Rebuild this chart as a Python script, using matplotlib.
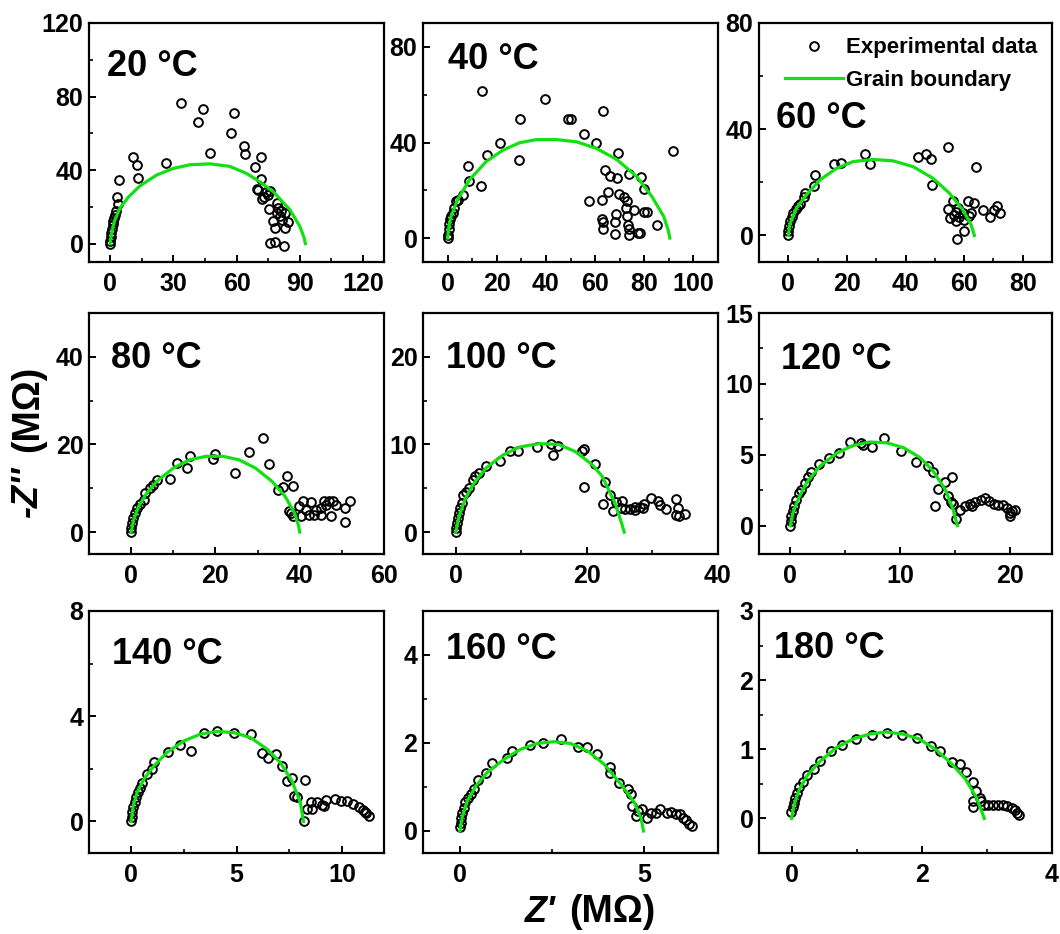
import numpy as np
import matplotlib
matplotlib.use("Agg")
import matplotlib.pyplot as plt
from matplotlib.ticker import MultipleLocator

plt.rcParams['font.family'] = ['Liberation Sans', 'DejaVu Sans']
plt.rcParams['font.weight'] = 'bold'

# ---------------- data ----------------
temps = ["20", "40", "60", "80", "100", "120", "140", "160", "180"]

e20 = [(0, 0), (0, 1.4), (0.3, 3.8), (0.5, 5.9), (0.8, 8.1), (1.3, 10.4), (1.6, 12.2), (2.1, 14.0),
       (2.4, 15.8), (2.8, 17.6), (3.6, 21.7), (3.2, 25.6), (4.1, 34.6), (11.1, 47.2), (12.6, 43.0),
       (13.1, 35.5), (26.5, 43.6), (33.6, 76.4), (41.5, 66.4), (44.2, 73.2), (47.4, 49.5), (57.6, 60.3),
       (58.9, 71.0), (63.6, 53.1), (64.0, 49.0), (71.5, 47.2), (68.7, 41.8), (71.8, 35.2), (69.5, 29.8),
       (70.3, 29.2), (74.2, 28.3), (75.8, 28.7), (73.0, 25.6), (75.0, 26.5), (72.3, 24.4), (75.5, 19.0),
       (79.0, 22.0), (79.7, 19.4), (81.3, 17.6), (82.9, 16.7), (77.4, 12.2), (78.2, 8.6), (82.9, 8.6),
       (84.5, 11.7), (80.5, 14.9), (75.8, 0.5), (78.2, 0.9), (82.4, -1.3), (81.8, 13.1), (79.3, 16.7)]
f20 = [(0, 0), (0.8, 6), (2, 12), (4.7, 19.4), (8.7, 25.3), (14.2, 31.4), (22.1, 37.3), (30, 40.9),
       (37.9, 42.9), (47.4, 43.4), (56.8, 42), (64.7, 38.2), (71, 33.7), (77.4, 28.3), (85.3, 18.5),
       (90, 9.5), (92, 3.5), (92.7, 0)]

e40 = [(0, 0), (0.3, 1.5), (0.4, 3.6), (0.7, 5.7), (1, 7.8), (1.4, 9.1), (2, 10.5), (2.7, 12.6),
       (3.4, 15.4), (4.1, 16.1), (6.1, 18.1), (8.4, 30.3), (8.6, 23.7), (13.4, 22.0), (14.2, 61.7),
       (16.1, 34.7), (21.5, 39.6), (29.0, 32.7), (29.6, 49.7), (39.8, 58.3), (48.8, 49.7), (50.2, 49.7),
       (55.6, 43.7), (60.2, 39.6), (63.1, 53.0), (69.2, 35.8), (64.1, 28.5), (66.1, 26.0), (68.8, 25.3),
       (73.9, 26.7), (78.8, 25.7), (79.7, 20.5), (65.1, 19.2), (69.6, 18.4), (71.8, 17.4), (72.9, 15.4),
       (72.6, 12.6), (76.0, 11.9), (80.0, 10.9), (81.1, 10.9), (57.5, 15.4), (62.7, 16.1), (68.5, 10.1),
       (62.9, 8.2), (63.1, 6.6), (63.4, 3.9), (68.3, 6.6), (67.9, 1.8), (72.9, 9.4), (73.2, 5.3),
       (73.7, 1.1), (77.4, 2.2), (78.1, 2.2), (85.2, 5.4), (91.6, 36.5), (73.9, 3.6)]
f40 = [(0, 0), (0.5, 4.5), (1.4, 9.1), (4.1, 16.1), (8.9, 24.4), (15.7, 32), (22.5, 36.8), (29.3, 39.9),
       (36.1, 41.2), (44.3, 41.2), (52.5, 40.3), (60.6, 37.5), (68.8, 32.9), (77, 25.7), (83.1, 17.4),
       (87.9, 9.1), (89.7, 3.5), (90.4, 0)]

e60 = [(0, 0), (0, 1.5), (0.2, 3.4), (0.6, 5.3), (1.1, 7.1), (1.7, 8.4), (2.5, 9.9), (3.4, 10.9),
       (4.0, 11.9), (5.3, 14.6), (5.7, 16.1), (8.9, 18.8), (9.1, 22.8), (15.7, 26.9), (17.9, 27.4),
       (26.3, 30.6), (28.0, 26.9), (44.3, 29.4), (46.9, 30.6), (48.8, 28.8), (54.6, 33.4), (49.0, 19.0),
       (63.9, 25.9), (54.5, 9.9), (56.2, 12.8), (55.1, 6.5), (56.5, 7.8), (57.3, 9.0), (57.9, 10.3),
       (58.4, 7.1), (59.6, 8.4), (60.1, 5.9), (57.3, 5.3), (61.3, 13.0), (63.5, 12.1), (62.4, 8.4),
       (66.4, 9.6), (68.7, 7.1), (71.3, 11.1), (72.4, 8.6), (70.3, 9.6), (59.9, 1.5), (57.6, -1.4),
       (61.6, 7.4)]
f60 = [(0, 0), (0.4, 3.5), (1.1, 5.9), (2.8, 10.3), (6.2, 15.3), (10.8, 20.9), (16.5, 25.3), (22.1, 27.8),
       (28.9, 28.6), (35.7, 28.1), (42.6, 25.9), (49.4, 21.5), (55.0, 15.9), (59.6, 9.6), (62.4, 4),
       (63.5, 0)]

e80 = [(0, 0), (0, 0.9), (0.2, 2.1), (0.5, 3.2), (0.9, 4.3), (1.4, 5.5), (2.0, 6.5), (3.0, 7.4),
       (3.4, 8.9), (4.5, 10.1), (5.3, 10.8), (6.1, 12.0), (9.2, 12.2), (10.9, 15.8), (13.3, 14.6),
       (13.9, 17.4), (19.5, 16.7), (20.0, 17.9), (24.6, 13.5), (27.9, 18.2), (31.3, 21.5), (32.6, 15.6),
       (34.8, 9.7), (36.1, 10.3), (36.9, 12.9), (38.4, 10.6), (37.4, 4.9), (37.9, 4.3), (38.4, 3.7),
       (39.8, 5.9), (40.8, 7.2), (41.6, 5.1), (42.6, 6.8), (40.4, 3.6), (42.2, 4.0), (43.9, 5.1),
       (45.1, 5.6), (45.8, 7.0), (46.2, 6.2), (45.1, 4.0), (47.4, 3.6), (47.8, 7.2), (48.6, 6.2),
       (46.9, 7.0), (50.8, 5.5), (51.9, 7.2), (50.7, 2.4), (43.5, 4.0)]
f80 = [(0, 0), (0.6, 2.8), (1.8, 5.9), (3.7, 8.9), (6.1, 11.6), (10.0, 14.6), (13.9, 16.5), (17.8, 17.3),
       (21.7, 17.3), (25.6, 16.5), (29.5, 14.6), (33.4, 11.6), (36.5, 8.2), (38.8, 4.3), (39.7, 1.5),
       (40, 0)]

e100 = [(0, 0), (0.1, 0.5), (0.25, 1.0), (0.35, 1.6), (0.5, 2.2), (0.7, 2.7), (1.0, 3.3), (1.1, 4.2),
        (1.6, 4.6), (2.0, 5.0), (2.6, 6.0), (3.0, 6.4), (3.6, 6.7), (4.6, 7.5), (6.8, 8.1), (8.2, 9.2),
        (9.5, 9.3), (12.4, 9.7), (14.5, 10.1), (14.9, 8.8), (15.6, 9.8), (19.2, 9.2), (19.5, 9.5),
        (19.6, 5.1), (21.3, 7.8), (22.8, 5.7), (22.5, 3.2), (23.5, 4.2), (24.0, 2.4), (24.4, 3.4),
        (25.2, 2.7), (25.8, 2.6), (26.5, 2.6), (27.3, 2.9), (28.1, 2.9), (28.7, 3.2), (28.6, 2.7),
        (29.8, 3.9), (30.8, 3.5), (31.2, 3.1), (32.0, 2.6), (33.6, 3.8), (33.9, 2.7), (33.6, 2.0),
        (34.1, 1.8), (34.9, 2.1), (25.3, 3.5), (27.3, 2.5)]
f100 = [(0, 0), (0.5, 1.8), (1.4, 3.7), (2.6, 5.4), (4.6, 7.3), (7.2, 8.8), (9.7, 9.7), (12.7, 10.1),
        (15.7, 10.0), (18.2, 9.2), (20.8, 7.7), (22.3, 6.4), (24.3, 3.3), (25.3, 1.0), (25.7, 0)]

e120 = [(0, 0), (0.03, 0.3), (0.1, 0.66), (0.2, 1.0), (0.33, 1.36), (0.55, 1.84), (0.8, 2.3), (1.0, 2.54),
        (1.3, 3.0), (1.6, 3.4), (1.9, 3.8), (2.6, 4.35), (3.5, 4.8), (4.4, 5.1), (5.4, 5.9), (6.4, 5.8),
        (6.6, 5.7), (7.4, 5.55), (8.5, 6.16), (10.1, 5.25), (11.4, 4.5), (12.5, 4.2), (13.0, 3.8),
        (13.4, 2.6), (13.2, 1.4), (14.1, 3.1), (14.7, 3.4), (14.3, 2.1), (14.6, 1.7), (14.8, 1.5),
        (15.1, 0.47), (15.4, 1.08), (15.9, 1.36), (16.3, 1.55), (16.8, 1.7), (17.3, 1.84), (17.7, 1.95),
        (18.1, 1.76), (18.5, 1.55), (18.9, 1.46), (19.3, 1.44), (19.7, 1.25), (20.0, 0.9), (20.2, 1.0),
        (20.0, 0.66), (20.4, 1.13), (16.5, 1.36)]
f120 = [(0, 0), (0.24, 0.9), (0.7, 1.84), (1.46, 3.0), (2.7, 4.2), (4.2, 5.1), (5.7, 5.65), (7.2, 5.9),
        (8.8, 5.84), (10.3, 5.5), (11.8, 4.8), (13.0, 3.84), (14.1, 2.54), (14.8, 1.13), (15.2, 0)]

e140 = [(0, 0), (0.02, 0.15), (0.05, 0.34), (0.1, 0.53), (0.16, 0.72), (0.24, 0.91), (0.33, 1.13),
        (0.44, 1.29), (0.52, 1.48), (0.73, 1.8), (1.0, 1.99), (1.07, 2.27), (1.75, 2.65), (2.31, 2.91),
        (2.84, 2.66), (3.48, 3.35), (4.08, 3.44), (4.9, 3.38), (5.69, 3.32), (6.21, 2.62), (6.49, 2.41),
        (6.89, 2.56), (7.16, 2.11), (7.39, 1.54), (7.63, 1.65), (7.71, 0.97), (7.87, 0.94), (8.23, 1.57),
        (8.18, 0), (8.34, 0.47), (8.55, 0.72), (8.8, 0.72), (9.05, 0.62), (9.26, 0.81), (9.68, 0.87),
        (9.97, 0.78), (10.24, 0.76), (10.55, 0.68), (10.79, 0.56), (11.0, 0.44), (11.1, 0.37),
        (11.3, 0.22), (11.15, 0.32), (8.58, 0.47), (9.13, 0.57)]
f140 = [(0, 0), (0.1, 0.6), (0.28, 1.1), (0.6, 1.6), (1.07, 2.1), (1.7, 2.62), (2.5, 3.06), (3.29, 3.32),
        (4.08, 3.42), (4.87, 3.38), (5.66, 3.19), (6.45, 2.75), (7.08, 2.24), (7.63, 1.54), (8.03, 0.72),
        (8.18, 0)]

e160 = [(0, 0.09), (0.02, 0.19), (0.04, 0.3), (0.06, 0.42), (0.11, 0.53), (0.15, 0.65), (0.23, 0.76),
        (0.29, 0.85), (0.38, 0.95), (0.49, 1.15), (0.7, 1.31), (0.88, 1.54), (1.27, 1.65), (1.4, 1.82),
        (1.9, 1.96), (2.26, 1.99), (2.75, 2.09), (3.19, 1.9), (3.44, 1.9), (3.71, 1.75), (4.08, 1.46),
        (4.08, 1.31), (4.32, 1.1), (4.57, 0.95), (4.64, 0.83), (4.68, 0.57), (4.77, 0.34), (4.93, 0.49),
        (5.07, 0.3), (5.18, 0.42), (5.32, 0.42), (5.43, 0.49), (5.63, 0.42), (5.72, 0.44), (5.86, 0.38),
        (5.98, 0.38), (6.04, 0.3), (6.13, 0.24), (6.2, 0.17), (6.29, 0.11), (4.82, 0.46)]
f160 = [(0, 0), (0.06, 0.3), (0.2, 0.68), (0.43, 1.02), (0.74, 1.33), (1.2, 1.63), (1.65, 1.86),
        (2.1, 1.99), (2.55, 2.03), (3.0, 1.99), (3.46, 1.82), (3.91, 1.52), (4.37, 1.06), (4.73, 0.65),
        (4.91, 0.3), (4.98, 0)]

e180 = [(-0.01, 0.1), (0.015, 0.16), (0.03, 0.23), (0.05, 0.3), (0.08, 0.37), (0.12, 0.45), (0.17, 0.52),
        (0.24, 0.63), (0.34, 0.71), (0.44, 0.83), (0.61, 0.97), (0.77, 1.06), (0.99, 1.15), (1.23, 1.21),
        (1.46, 1.24), (1.7, 1.21), (1.93, 1.17), (2.14, 1.05), (2.28, 0.97), (2.46, 0.82), (2.58, 0.79),
        (2.68, 0.67), (2.78, 0.52), (2.84, 0.4), (2.79, 0.25), (2.78, 0.16), (2.91, 0.25), (2.96, 0.2),
        (3.02, 0.19), (3.1, 0.19), (3.17, 0.19), (3.24, 0.19), (3.31, 0.18), (3.38, 0.15), (3.43, 0.12),
        (3.47, 0.08), (3.5, 0.05), (2.89, 0.3)]
f180 = [(0, 0), (0.04, 0.2), (0.12, 0.42), (0.24, 0.62), (0.44, 0.83), (0.7, 1.03), (0.95, 1.15),
        (1.2, 1.22), (1.45, 1.25), (1.71, 1.22), (1.96, 1.15), (2.21, 1.0), (2.46, 0.79), (2.67, 0.57),
        (2.84, 0.3), (2.96, 0)]

exp_data = [e20, e40, e60, e80, e100, e120, e140, e160, e180]
fit_data = [f20, f40, f60, f80, f100, f120, f140, f160, f180]

xlims = [(-10, 130), (-10, 110), (-10, 90), (-10, 60), (-5, 40), (-2.85, 23.8), (-2, 12), (-1, 7), (-0.5, 4)]
ylims = [(-10, 120), (-10, 90), (-10, 80), (-5, 50), (-2.5, 25), (-2, 15), (-1.2, 8), (-0.5, 5), (-0.5, 3)]
xmajor = [30, 20, 20, 20, 20, 10, 5, 5, 2]
ymajor = [40, 40, 40, 20, 10, 5, 4, 2, 1]

title_pos = [(0.06, 0.778), (0.085, 0.806), (0.058, 0.56), (0.075, 0.772), (0.079, 0.772),
             (0.076, 0.767), (0.077, 0.783), (0.079, 0.80), (0.05, 0.807)]

# ---------------- layout ----------------
W, H = 1060, 934
fig = plt.figure(figsize=(W / 100, H / 100), dpi=100)
col_l = [89, 423, 759]
col_r = [384, 718, 1052]
row_t = [23, 313, 611]
row_b = [262, 554, 853]

GREEN = '#12e012'

for i in range(9):
    r, c = divmod(i, 3)
    ax = fig.add_axes([col_l[c] / W, 1 - row_b[r] / H, (col_r[c] - col_l[c]) / W, (row_b[r] - row_t[r]) / H])
    e = np.array(exp_data[i])
    f = np.array(fit_data[i])
    ax.plot(e[:, 0], e[:, 1], 'o', ms=6.3, mfc='none', mec='black', mew=1.4, zorder=2,
            label='Experimental data')
    ax.plot(f[:, 0], f[:, 1], '-', color=GREEN, lw=2.3, zorder=3, label='Grain boundary')
    ax.set_xlim(*xlims[i])
    ax.set_ylim(*ylims[i])
    ax.xaxis.set_major_locator(MultipleLocator(xmajor[i]))
    ax.xaxis.set_minor_locator(MultipleLocator(xmajor[i] / 2))
    ax.yaxis.set_major_locator(MultipleLocator(ymajor[i]))
    ax.yaxis.set_minor_locator(MultipleLocator(ymajor[i] / 2))
    ax.tick_params(which='major', direction='in', length=5, width=1.4, labelsize=18)
    ax.tick_params(which='minor', direction='in', length=3, width=1.2)
    ax.tick_params(axis='x', which='major', pad=7)
    ax.tick_params(axis='y', which='major', pad=4)
    for lab in ax.get_xticklabels() + ax.get_yticklabels():
        lab.set_fontweight('bold')
    for sp in ax.spines.values():
        sp.set_linewidth(1.6)
    tx, ty = title_pos[i]
    ax.text(tx, ty, temps[i] + " \u00b0C", transform=ax.transAxes, fontsize=26, fontweight='bold',
            ha='left', va='baseline')
    if i == 2:
        ax.legend(loc='upper right', frameon=False, handlelength=2.6,
                  handletextpad=0.15, labelspacing=0.5, borderaxespad=0.2, borderpad=0.45,
                  prop={'weight': 'bold', 'size': 16})

# axis labels
fig.text(540.5 / W, 1 - 922 / H, "Z'", fontsize=26, fontweight='bold', fontstyle='italic',
         ha='center', va='baseline')
fig.text(612.5 / W, 1 - 922 / H, "(M\u03a9)", fontsize=27, fontweight='bold', ha='center', va='baseline')
fig.text(28 / W, 1 - 492 / H, "-Z''", fontsize=26, fontweight='bold', fontstyle='italic',
         rotation=90, ha='center', va='center')
fig.text(28 / W, 1 - 408.5 / H, "(M\u03a9)", fontsize=27, fontweight='bold', rotation=90,
         ha='center', va='center')

fig.savefig('out.png', dpi=100)
